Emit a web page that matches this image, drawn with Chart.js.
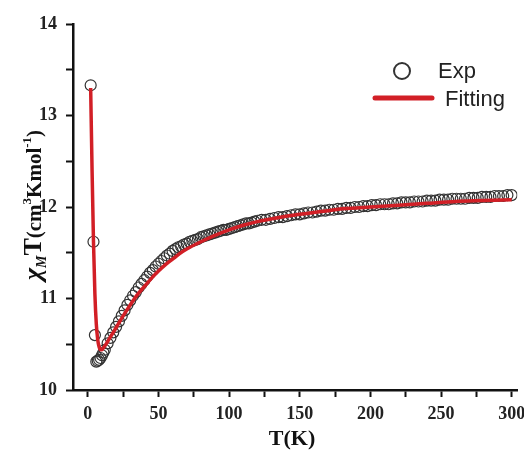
<!DOCTYPE html>
<html>
<head>
<meta charset="utf-8">
<script src="https://cdn.jsdelivr.net/npm/chart.js@4"></script>
<style>
  html, body { margin: 0; padding: 0; background: #fff; }
  #wrap { width: 524px; height: 450px; position: relative; }
</style>
</head>
<body>
<div id="wrap"><canvas id="myChart"></canvas></div>
<script>
// datos experimentales (T en K, chiM*T)
const expT = [2, 4, 5, 6, 7, 8, 9, 10, 11, 12, 14, 16, 18, 20, 22, 24, 26, 28, 30, 32, 34, 36, 38, 40, 42, 44, 46, 48, 50,
  52, 54, 56, 58, 60, 62, 64, 66, 68, 70, 72, 74, 76, 78, 80, 82, 84, 86, 88, 90, 92, 94, 96, 98, 100,
  102, 104, 106, 108, 110, 112, 114, 116, 118, 120, 123, 126, 129, 132, 135, 138, 141, 144, 147, 150,
  153, 156, 159, 162, 165, 168, 171, 174, 177, 180, 183, 186, 189, 192, 195, 198, 201, 204, 207, 210,
  213, 216, 219, 222, 225, 228, 231, 234, 237, 240, 243, 246, 249, 252, 255, 258, 261, 264, 267, 270,
  273, 276, 279, 282, 285, 288, 291, 294, 297, 300];
const expChiT = [13.33, 11.62, 10.60, 10.31, 10.32, 10.33, 10.35, 10.38, 10.41, 10.44, 10.51, 10.57, 10.63, 10.69, 10.75, 10.81, 10.87, 10.93, 10.98, 11.03, 11.07, 11.12, 11.16, 11.20, 11.24, 11.28, 11.31, 11.35, 11.38,
  11.41, 11.44, 11.47, 11.49, 11.52, 11.54, 11.56, 11.57, 11.59, 11.60, 11.62, 11.63, 11.64, 11.65, 11.67, 11.68, 11.69, 11.70, 11.71, 11.72, 11.73, 11.74, 11.75, 11.75, 11.76,
  11.77, 11.78, 11.79, 11.80, 11.81, 11.82, 11.82, 11.83, 11.84, 11.85, 11.86, 11.86, 11.87, 11.88, 11.89, 11.89, 11.90, 11.91, 11.92, 11.92,
  11.93, 11.94, 11.94, 11.95, 11.96, 11.96, 11.97, 11.97, 11.98, 11.98, 11.99, 11.99, 12.00, 12.00, 12.01, 12.01, 12.02, 12.02, 12.03, 12.03,
  12.03, 12.04, 12.04, 12.05, 12.05, 12.05, 12.06, 12.06, 12.06, 12.07, 12.07, 12.07, 12.08, 12.08, 12.08, 12.09, 12.09, 12.09, 12.09, 12.10,
  12.10, 12.10, 12.11, 12.11, 12.11, 12.12, 12.12, 12.12, 12.13, 12.13];

// curva de ajuste
const fitT = [2, 3, 4, 5, 6, 7, 8, 9, 10, 11, 12, 14, 16, 18, 20, 25, 30, 35, 40, 45, 50, 55, 60, 65, 70, 80, 90, 100, 110, 120, 130, 140, 150, 160, 170, 180, 190, 200, 220, 240, 260, 280, 300];
const fitChiT = [13.30, 12.40, 11.62, 11.05, 10.72, 10.55, 10.47, 10.44, 10.44, 10.46, 10.48, 10.53, 10.58, 10.63, 10.68, 10.81, 10.93, 11.04, 11.13, 11.22, 11.30, 11.37, 11.43, 11.49, 11.54, 11.62, 11.69, 11.75, 11.80, 11.84, 11.87, 11.90, 11.92, 11.94, 11.96, 11.98, 11.99, 12.00, 12.02, 12.04, 12.06, 12.07, 12.08];

// ticks
const xTicks = [0, 25, 50, 75, 100, 125, 150, 175, 200, 225, 250, 275, 300];
const yTicks = [10, 10.5, 11, 11.5, 12, 12.5, 13, 13.5, 14];

const serif = "'Liberation Serif', 'DejaVu Serif', serif";
const sans = "'Liberation Sans', Arial, sans-serif";
const rojo = '#d21f26';

// titulos de ejes y leyenda dibujados a mano
const extras = {
  id: 'extras',
  afterDraw(chart) {
    const ctx = chart.ctx;
    ctx.save();
    ctx.fillStyle = '#111';
    // titulo eje x
    ctx.font = 'bold 22px ' + serif;
    ctx.textAlign = 'center';
    ctx.textBaseline = 'middle';
    ctx.fillText('T(K)', 292, 439);

    // titulo eje y con sub/superindices
    const parts = [
      { t: 'χ', f: 'italic bold 26px ' + serif, dy: 0 },
      { t: 'M', f: 'italic bold 14px ' + serif, dy: 5 },
      { t: 'T', f: 'bold 26px ' + serif, dy: 0 },
      { t: '(cm', f: 'bold 21px ' + serif, dy: 0 },
      { t: '3', f: 'bold 13px ' + serif, dy: -10 },
      { t: 'Kmol', f: 'bold 21px ' + serif, dy: 0 },
      { t: '-1', f: 'bold 13px ' + serif, dy: -10 },
      { t: ')', f: 'bold 21px ' + serif, dy: 0 }
    ];
    let total = 0;
    for (const p of parts) { ctx.font = p.f; p.w = ctx.measureText(p.t).width; total += p.w; }
    ctx.translate(41, 205);
    ctx.rotate(-Math.PI / 2);
    ctx.textAlign = 'left';
    ctx.textBaseline = 'alphabetic';
    let x = -total / 2;
    for (const p of parts) { ctx.font = p.f; ctx.fillText(p.t, x, p.dy); x += p.w; }
    ctx.setTransform(1, 0, 0, 1, 0, 0);

    // leyenda
    ctx.strokeStyle = '#333';
    ctx.lineWidth = 2;
    ctx.beginPath();
    ctx.arc(402, 71, 8, 0, Math.PI * 2);
    ctx.stroke();
    ctx.strokeStyle = rojo;
    ctx.lineWidth = 5;
    ctx.lineCap = 'round';
    ctx.beginPath();
    ctx.moveTo(375, 98);
    ctx.lineTo(432, 98);
    ctx.stroke();
    ctx.fillStyle = '#222';
    ctx.font = '22px ' + sans;
    ctx.textBaseline = 'middle';
    ctx.fillText('Exp', 438, 72);
    ctx.fillText('Fitting', 445, 100);
    ctx.restore();
  }
};

const ctx = document.getElementById('myChart').getContext('2d');
const myChart = new Chart(ctx, {
  type: 'scatter',
  data: {
    datasets: [
      {
        label: 'Exp',
        data: expT.map((t, i) => ({ x: t, y: expChiT[i] })),
        pointRadius: 5.5,
        pointBorderWidth: 1.2,
        pointBorderColor: '#333',
        pointBackgroundColor: 'rgba(0,0,0,0)',
        showLine: false,
        order: 2
      },
      {
        label: 'Fitting',
        data: fitT.map((t, i) => ({ x: t, y: fitChiT[i] })),
        showLine: true,
        borderColor: rojo,
        borderWidth: 3.5,
        pointRadius: 0,
        cubicInterpolationMode: 'monotone',
        order: 1
      }
    ]
  },
  options: {
    responsive: true,
    maintainAspectRatio: false,
    animation: false,
    layout: { padding: { top: 24, right: 0, left: 0, bottom: 0 } },
    plugins: { legend: { display: false }, tooltip: { enabled: false } },
    scales: {
      x: {
        type: 'linear',
        min: -10.5,
        max: 304,
        border: { color: '#111', width: 2.5 },
        grid: { drawOnChartArea: false, tickLength: 7, tickWidth: 2, tickColor: '#111' },
        ticks: {
          color: '#222',
          padding: 7,
          maxRotation: 0,
          autoSkip: false,
          font: { family: serif, size: 18, weight: 'bold' },
          callback: v => (v % 50 === 0 ? v : '')
        },
        afterBuildTicks: s => { s.ticks = xTicks.map(v => ({ value: v })); },
        afterFit: s => { s.height = 60; s.paddingRight = 0; s.paddingLeft = 0; }
      },
      y: {
        type: 'linear',
        min: 10,
        max: 14,
        border: { color: '#111', width: 2.5 },
        grid: { drawOnChartArea: false, tickLength: 7, tickWidth: 2, tickColor: '#111' },
        ticks: {
          color: '#222',
          padding: 9,
          autoSkip: false,
          font: { family: serif, size: 18, weight: 'bold' },
          callback: v => (Number.isInteger(v) ? v : '')
        },
        afterBuildTicks: s => { s.ticks = yTicks.map(v => ({ value: v })); },
        afterFit: s => { s.width = 73; s.paddingTop = 0; s.paddingBottom = 0; }
      }
    }
  },
  plugins: [extras]
});
</script>
</body>
</html>
